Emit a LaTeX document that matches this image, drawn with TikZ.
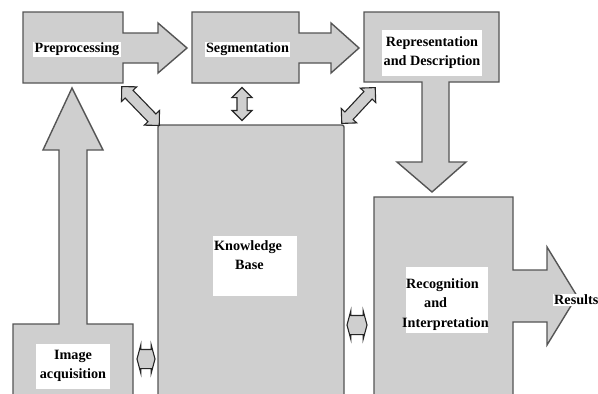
\documentclass[tikz,border=0pt]{standalone}
\usepackage{fontspec}
\setmainfont{Liberation Serif}
\usetikzlibrary{shapes.arrows}
\definecolor{boxfill}{RGB}{207,207,207}
\definecolor{boxedge}{RGB}{85,85,85}
\begin{document}
\begin{tikzpicture}[x=1pt,y=-1pt,
  blk/.style={fill=boxfill,draw=boxedge,line width=1.4pt,line join=miter},
  lbl/.style={fill=white,inner sep=1.5pt,font=\fontsize{14.2}{19.5}\selectfont\bfseries,align=center},
  txt/.style={inner sep=0pt,font=\fontsize{14.2}{19.5}\selectfont\bfseries},
  dbl/.style={double arrow,fill=boxfill,draw=black!85,line width=1.1pt,inner xsep=0pt,inner ysep=5pt,
    double arrow head extend=5pt,double arrow tip angle=90},
  sdbl/.style={double arrow,fill=boxfill,draw=black!85,line width=1.1pt,inner xsep=0pt,inner ysep=9pt,
    double arrow head extend=5pt,double arrow tip angle=150}]
\path[use as bounding box] (0,0) rectangle (598,394);
\clip (0,0) rectangle (598,394);
\fill[white] (0,0) rectangle (598,394);
% Preprocessing
\draw[blk] (23,12) -- (123,12) -- (123,33) -- (158,33) -- (158,23) -- (187,48) -- (158,73) -- (158,63) -- (123,63) -- (123,83) -- (23,83) -- cycle;
% Segmentation
\draw[blk] (192,12) -- (299,12) -- (299,33) -- (331,33) -- (331,23) -- (359,48) -- (331,73) -- (331,63) -- (299,63) -- (299,83) -- (192,83) -- cycle;
% Representation
\draw[blk] (364,12) -- (499,12) -- (499,82) -- (449,82) -- (449,162) -- (466,162) -- (432,192) -- (397,162) -- (422,162) -- (422,82) -- (364,82) -- cycle;
% Recognition
\draw[blk] (374,197) -- (513,197) -- (513,270) -- (547,270) -- (547,247) -- (577,296) -- (547,345) -- (547,322) -- (513,322) -- (513,410) -- (374,410) -- cycle;
% Image acquisition
\draw[blk] (13,324) -- (59,324) -- (59,150) -- (43,150) -- (72,88) -- (103,150) -- (87,150) -- (87,324) -- (133,324) -- (133,410) -- (13,410) -- cycle;
% Knowledge base
\draw[blk,rounded corners=2pt] (158,125) rectangle (344,410);
\fill[white] (213,236) rectangle (297,296);
% labels
\node[lbl] (pre) at (77,49.5) {Preprocessing};
\node[lbl] (seg) at (247.5,49.5) {Segmentation};
\node[lbl,minimum width=100pt,minimum height=46pt] (rep) at (432,52.5) {Representation\\and Description};
\node[txt,anchor=north west,align=left] (kb) at (214,240) {Knowledge\\\hspace{21pt}Base};
\fill[white] (406,267) rectangle (488,333);
\node[txt,anchor=north west,align=left] (rec) at (402,278) {\hspace{4pt}Recognition\\\hspace{22pt}and\\Interpretation};
\node[lbl,anchor=west,inner sep=1pt] (res) at (553,300) {Results};
\node[lbl,minimum width=74pt,minimum height=45pt] (img) at (73,366) {Image\\acquisition};
% double arrows
\node[dbl,minimum height=54pt,rotate=-46] (d1) at (140.5,106) {};
\node[dbl,minimum height=33pt,inner ysep=4.5pt,rotate=90] (d2) at (242,104) {};
\node[dbl,minimum height=49pt,rotate=47] (d3) at (358.5,105.5) {};
\node[sdbl,minimum height=18pt] (d4) at (146,359) {};
\node[sdbl,minimum height=20pt] (d5) at (357,325) {};
\end{tikzpicture}
\end{document}
